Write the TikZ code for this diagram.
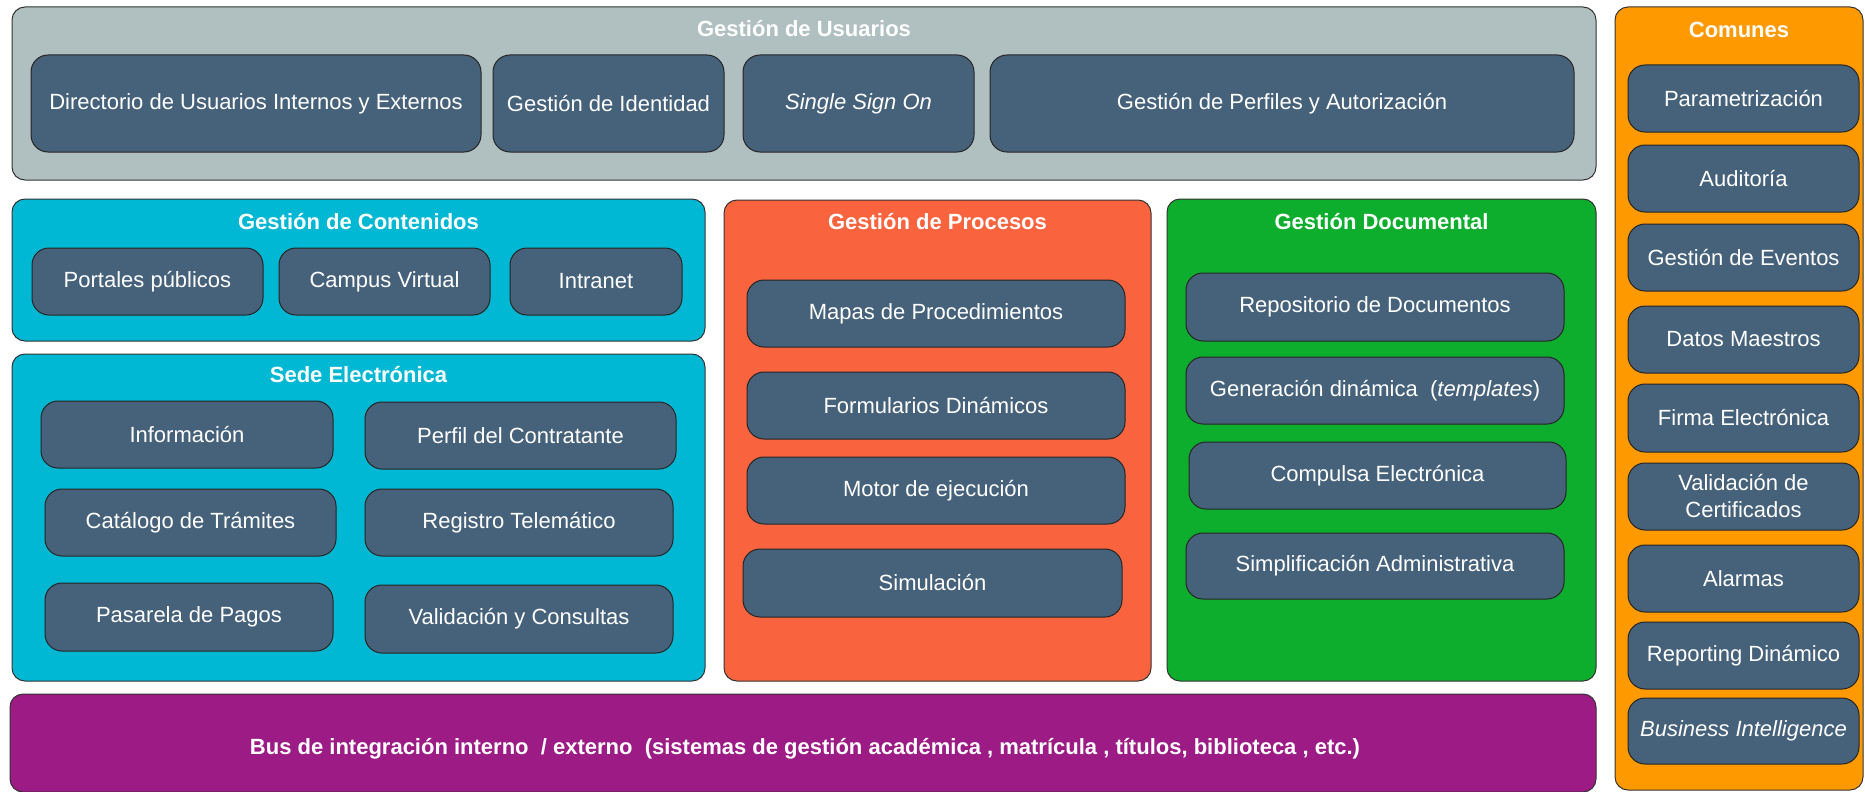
\documentclass[tikz,border=0pt]{standalone}
\usepackage{fontspec}
\setmainfont{Liberation Sans}
\definecolor{slate}{HTML}{46627A}
\definecolor{usrgray}{HTML}{B0BFC0}
\definecolor{contcyan}{HTML}{00B8D4}
\definecolor{procred}{HTML}{F9643F}
\definecolor{docgreen}{HTML}{0DAE2D}
\definecolor{buspurple}{HTML}{9C1B85}
\definecolor{comorange}{HTML}{FF9900}

\begin{document}
\begin{tikzpicture}[x=1pt, y=-1pt,
  sz/.style 2 args={minimum width=#1pt, minimum height=#2pt},
  grp/.style={draw=black!80, line width=1pt, rounded corners=13pt, inner sep=0pt},
  mod/.style={draw=black!85, line width=1pt, fill=slate, rounded corners=17pt, inner sep=0pt,
    text=white, align=center, font=\fontsize{22}{27}\selectfont},
  title/.style={text=white, font=\fontsize{22}{26}\selectfont\bfseries}]
\useasboundingbox (0,0) rectangle (1865,792);

\node[grp, fill=usrgray, sz={1584}{173}] (usr) at (804,93.5) {};
\node[grp, fill=comorange, sz={248}{783}] (com) at (1739,398.5) {};
\node[grp, fill=contcyan, sz={693}{142}] (cont) at (358.5,270) {};
\node[grp, fill=contcyan, sz={693}{327}] (sede) at (358.5,517.5) {};
\node[grp, fill=procred, sz={427}{481}] (proc) at (937.5,440.5) {};
\node[grp, fill=docgreen, sz={429}{482}] (doc) at (1381.5,440) {};
\node[grp, fill=buspurple, sz={1586}{98}] (bus) at (803,743) {};

\node[title] (usr-t) at (804,29) {Gestión de Usuarios};
\node[title] (com-t) at (1739,30) {Comunes};
\node[title] (cont-t) at (358.5,222) {Gestión de Contenidos};
\node[title] (sede-t) at (358.5,375) {Sede Electrónica};
\node[title] (proc-t) at (937.5,222) {Gestión de Procesos};
\node[title] (doc-t) at (1381.5,222) {Gestión Documental};
\node[title] (bus-t) at (805,749)
  {Bus de integración interno \ / externo \ (sistemas de gestión académica , matrícula , títulos, biblioteca , etc.)};

\node[mod, sz={450}{97}] (dir) at (256,103.5) {Directorio de Usuarios Internos y Externos};
\node[mod, sz={231}{97}] (ident) at (608.5,103.5) {Gestión de Identidad};
\node[mod, sz={231}{97}] (sso) at (858.5,103.5) {\itshape Single Sign On};
\node[mod, sz={584}{97}] (perf) at (1282,103.5) {Gestión de Perfiles y Autorización};

\node[mod, sz={231}{67}] (port) at (147.5,281.5) {Portales públicos};
\node[mod, sz={211}{67}] (camp) at (384.5,281.5) {Campus Virtual};
\node[mod, sz={172}{67}] (intra) at (596,281.5) {Intranet};

\node[mod, sz={292}{67}] (info) at (187,434.5) {Información};
\node[mod, sz={311}{67}] (perfc) at (520.5,435.5) {Perfil del Contratante};
\node[mod, sz={291}{67}] (cat) at (190.5,522.5) {Catálogo de Trámites};
\node[mod, sz={308}{67}] (reg) at (519,522.5) {Registro Telemático};
\node[mod, sz={288}{68}] (pas) at (189,617) {Pasarela de Pagos};
\node[mod, sz={308}{68}] (val) at (519,619) {Validación y Consultas};

\node[mod, sz={378}{67}] (mapas) at (936,313.5) {Mapas de Procedimientos};
\node[mod, sz={378}{67}] (form) at (936,405.5) {Formularios Dinámicos};
\node[mod, sz={378}{67}] (motor) at (936,490.5) {Motor de ejecución};
\node[mod, sz={379}{68}] (sim) at (932.5,583) {Simulación};

\node[mod, sz={378}{68}] (repo) at (1375,307) {Repositorio de Documentos};
\node[mod, sz={378}{67}] (gen) at (1375,390.5) {Generación dinámica \ (\textit{templates})};
\node[mod, sz={377}{67}] (comp) at (1377.5,475.5) {Compulsa Electrónica};
\node[mod, sz={378}{66}] (simp) at (1375,566) {Simplificación Administrativa};

\node[mod, sz={231}{67}] (param) at (1743.5,98.5) {Parametrización};
\node[mod, sz={231}{67}] (aud) at (1743.5,178.5) {Auditoría};
\node[mod, sz={231}{67}] (evt) at (1743.5,257.5) {Gestión de Eventos};
\node[mod, sz={231}{67}] (dat) at (1743.5,339.5) {Datos Maestros};
\node[mod, sz={231}{68}] (firma) at (1743.5,418) {Firma Electrónica};
\node[mod, sz={231}{67}] (valc) at (1743.5,496.5) {Validación de\\Certificados};
\node[mod, sz={231}{67}] (alarm) at (1743.5,578.5) {Alarmas};
\node[mod, sz={231}{67}] (rep) at (1743.5,655.5) {Reporting Dinámico};
\node[mod, sz={231}{66}] (bi) at (1743.5,731) {\itshape Business Intelligence};
\end{tikzpicture}
\end{document}
